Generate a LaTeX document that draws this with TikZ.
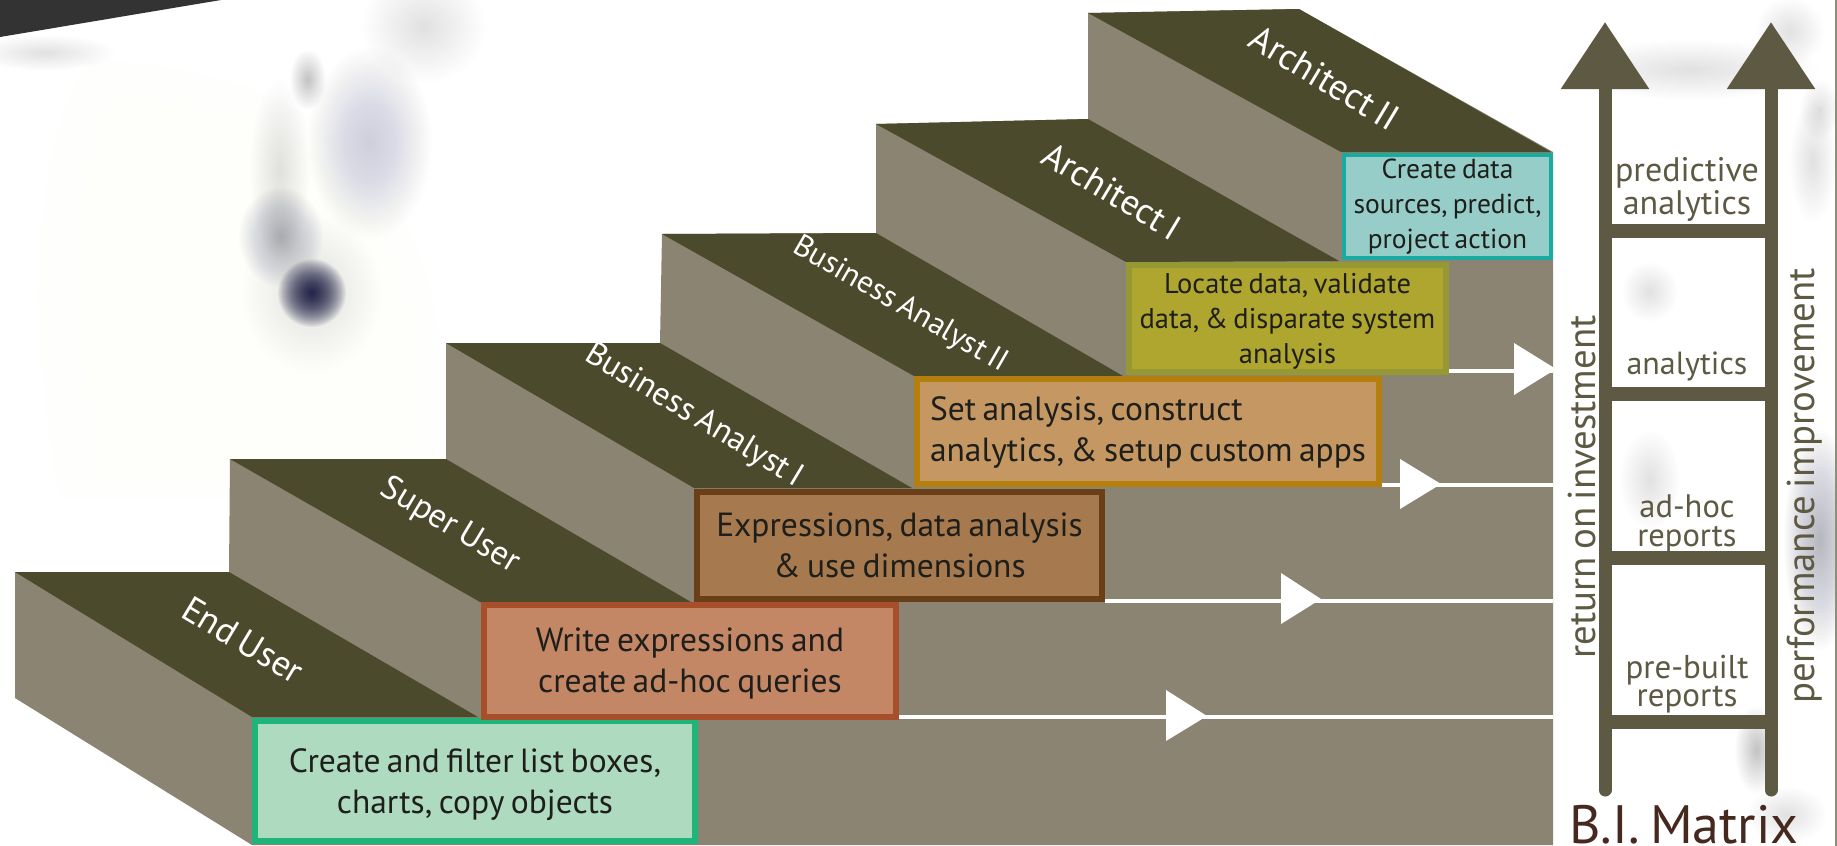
\documentclass[tikz,border=0pt]{standalone}
\usepackage{fontspec}
\setmainfont[WordSpace=0.72]{PT Sans}
\usetikzlibrary{arrows.meta}
\definecolor{wall}{HTML}{8C8472}
\definecolor{tread}{HTML}{4B4A2C}
\definecolor{rail}{HTML}{5D5943}
\definecolor{matrixtxt}{HTML}{45281E}
\definecolor{txt}{HTML}{1E1E1A}
\definecolor{paperA}{HTML}{FEFFFC}
\definecolor{paperB}{HTML}{FEFFFA}
\definecolor{edge}{HTML}{8A8F7A}
\definecolor{smudge}{HTML}{22224F}
\definecolor{haze}{HTML}{5C5C74}
\definecolor{lav}{HTML}{9C9CE0}
\definecolor{HTMLgreen}{HTML}{1FB57A}\definecolor{HTMLgreenf}{HTML}{AEDABF}
\definecolor{HTMLred}{HTML}{A74E2A}\definecolor{HTMLredf}{HTML}{C38766}
\definecolor{HTMLbrown}{HTML}{6A3F17}\definecolor{HTMLbrownf}{HTML}{A67A4E}
\definecolor{HTMLorange}{HTML}{B57F0E}\definecolor{HTMLorangef}{HTML}{C49763}
\definecolor{HTMLolive}{HTML}{969833}\definecolor{HTMLolivef}{HTML}{AFA62F}
\definecolor{HTMLteal}{HTML}{19AAA0}\definecolor{HTMLtealf}{HTML}{97CDC8}
\newcommand{\blob}[6]{%
  \foreach \k in {1,...,30}{%
    \fill[#5,fill opacity=#6] (#1,#2) ellipse [x radius=#3*\k/30, y radius=#4*\k/30];
  }}
\newcommand{\up}[1]{\rule{0pt}{#1pt}}
\tikzset{
  x=1pt,y=-1pt,
  wallface/.style={fill=wall,draw=none},
  treadface/.style={fill=tread,draw=none},
  taskbox/.style n args={2}{draw,line width=6pt,inner sep=0pt,align=center,text=txt,font=\fontsize{#1}{#2}\selectfont},
  steplabel/.style={text=white,rotate=-31,inner sep=0pt,font=\fontsize{#1}{36}\selectfont},
  flow/.style={draw=white,line width=4pt},
  flowhead/.style={fill=white,draw=none},
  railline/.style={draw=rail,line width=13pt,line cap=round,-{Triangle[width=85pt,length=67pt]}},
  rung/.style={draw=rail,line width=14pt},
  ladderlabel/.style n args={2}{text=rail,align=center,inner sep=0pt,font=\fontsize{#1}{#2}\selectfont},
  sidelabel/.style={text=rail,rotate=90,inner sep=0pt,font=\fontsize{38.8}{40}\selectfont},
}
\begin{document}
\begin{tikzpicture}
\useasboundingbox (0,0) rectangle (1837,846);
\fill[white] (0,0) rectangle (1837,846);
% blurred backdrop
\fill[paperA] (90,60) .. controls (420,70) and (470,300) .. (430,500) -- (60,500) .. controls (20,300) and (40,120) .. (90,60) -- cycle;
\fill[paperB] (120,100) .. controls (400,110) and (430,300) .. (400,470) -- (110,480) .. controls (60,300) and (80,150) .. (120,100) -- cycle;
\blob{312}{293}{34}{34}{smudge}{0.055}
\blob{312}{293}{70}{80}{smudge}{0.003}
\blob{281}{237}{42}{50}{haze}{0.014}
\blob{280}{170}{30}{90}{haze}{0.004}
\blob{370}{143}{62}{95}{haze}{0.007}
\blob{308}{80}{18}{30}{haze}{0.012}
\blob{424}{27}{62}{56}{lav}{0.006}
\blob{45}{53}{70}{18}{gray}{0.004}
\blob{1300}{50}{500}{22}{gray}{0.0015}
\blob{1650}{292}{28}{30}{gray}{0.004}
\blob{1690}{70}{130}{30}{gray}{0.002}
\blob{1820}{540}{36}{110}{haze}{0.014}
\blob{1757}{750}{22}{44}{haze}{0.011}
\blob{1790}{32}{34}{34}{gray}{0.007}
\blob{1813}{162}{24}{60}{gray}{0.005}
\blob{1820}{110}{20}{30}{gray}{0.006}
\blob{1650}{480}{30}{50}{gray}{0.003}
\blob{1787}{815}{40}{28}{gray}{0.006}
\fill[edge] (1834.5,0) rectangle (1837,846);
\fill[black!80] (0,0) -- (221,0) -- (0,37) -- cycle;
% stair silhouette
\path[wallface] (15,572) -- (229,572) -- (230,459) -- (446,459) -- (446,343) -- (660,343) -- (662,234)
  -- (876,233) -- (876,124) -- (1088,119) -- (1088,13) -- (1299,9) -- (1553,152) -- (1553,845) -- (252,845) -- (15,698) -- cycle;
% treads
\path[treadface] (15,572) -- (229,572) -- (478,717) -- (252,717) -- cycle;
\path[treadface] (230,459) -- (446,459) -- (691,602) -- (480,602) -- cycle;
\path[treadface] (446,343) -- (660,343) -- (912,488) -- (694,488) -- cycle;
\path[treadface] (662,234) -- (876,233) -- (1123,376) -- (914,376) -- cycle;
\path[treadface] (876,124) -- (1088,119) -- (1339,261) -- (1126,262) -- cycle;
\path[treadface] (1088,13) -- (1299,9) -- (1551,152) -- (1341,152) -- cycle;
% step labels
\node[steplabel=36] (l1) at (243,640) {End User};
\node[steplabel=34] (l2) at (450,526) {Super User};
\node[steplabel=33] (l3) at (694,416) {Business Analyst I};
\node[steplabel=31,rotate=1] (l4) at (900,305) {Business Analyst II};
\node[steplabel=36] (l5) at (1112,191) {Architect I};
\node[steplabel=36.5] (l6) at (1325,78) {Architect II};
% free ends of flow lines
\coordinate (e1) at (1553,717);
\coordinate (e2) at (1553,601);
\coordinate (e3) at (1553,485);
\coordinate (e4) at (1553,371);
\coordinate (s1) at (899,717);
\coordinate (s2) at (1105,601);
\coordinate (s3) at (1382,485);
\coordinate (s4) at (1449,371);
\draw[flow] (s1) -- (e1);
\draw[flow] (s2) -- (e2);
\draw[flow] (s3) -- (e3);
\draw[flow] (s4) -- (e4);
\path[flowhead] (1166,690) -- (1207,716) -- (1166,741) -- cycle;
\path[flowhead] (1281,573) -- (1321,599) -- (1281,624) -- cycle;
\path[flowhead] (1400,459) -- (1441,484) -- (1400,509) -- cycle;
\path[flowhead] (1514,343) -- (1556,369) -- (1514,395) -- cycle;
% task boxes
\node[taskbox={33.5}{41},draw=HTMLgreen,fill=HTMLgreenf,minimum width=440pt,minimum height=120pt] (b1) at (475,781)
  {\up{31.5}Create and filter list boxes,\\charts, copy objects};
\node[taskbox={33.5}{41},draw=HTMLred,fill=HTMLredf,minimum width=412pt,minimum height=112pt] (b2) at (690,661)
  {\up{29.5}Write expressions and\\create ad-hoc queries};
\node[taskbox={33.5}{41},draw=HTMLbrown,fill=HTMLbrownf,minimum width=405pt,minimum height=107pt] (b3) at (899.5,545.5)
  {\up{24}Expressions, data analysis\\\& use dimensions};
\node[taskbox={33.5}{41},draw=HTMLorange,fill=HTMLorangef,text width=436pt,inner xsep=13pt,minimum height=105pt,align=flush left] (b4) at (1148,431.5)
  {\up{26}Set analysis, construct\\analytics, \& setup custom apps};
\node[taskbox={28.5}{35},draw=HTMLolive,fill=HTMLolivef,minimum width=317pt,minimum height=107pt] (b5) at (1287.5,318.5)
  {\up{25}Locate data, validate\\data, \& disparate system\\analysis};
\node[taskbox={27.5}{35},draw=HTMLteal,fill=HTMLtealf,line width=4pt,minimum width=207pt,minimum height=103pt] (b6) at (1447.5,206.5)
  {Create data\\sources, predict,\\project action};
% ladder
\coordinate (la) at (1605,790);
\coordinate (lb) at (1605,22);
\coordinate (ra) at (1771,790);
\coordinate (rb) at (1771,22);
\draw[railline] (la) -- (lb);
\draw[railline] (ra) -- (rb);
\coordinate (r1) at (1605,722); \coordinate (r1e) at (1771,722);
\coordinate (r2) at (1605,558); \coordinate (r2e) at (1771,558);
\coordinate (r3) at (1605,394); \coordinate (r3e) at (1771,394);
\coordinate (r4) at (1605,231); \coordinate (r4e) at (1771,231);
\draw[rung] (r1) -- (r1e);
\draw[rung] (r2) -- (r2e);
\draw[rung] (r3) -- (r3e);
\draw[rung] (r4) -- (r4e);
\node[ladderlabel={33}{28}] (t1) at (1687,684.5) {pre-built\\reports};
\node[ladderlabel={32.5}{29}] (t2) at (1687,524) {ad-hoc\\reports};
\node[ladderlabel={32}{32}] (t3) at (1687,366) {analytics};
\node[ladderlabel={34}{33}] (t4) at (1687,189) {predictive\\analytics};
\node[sidelabel] (sl) at (1582,487) {return on investment};
\node[sidelabel] (sr) at (1805,486) {performance improvement};
\node[anchor=base,text=matrixtxt,inner sep=0pt,font=\fontsize{54}{54}\selectfont] (title) at (1684,843) {B.I. Matrix};
\end{tikzpicture}
\end{document}
